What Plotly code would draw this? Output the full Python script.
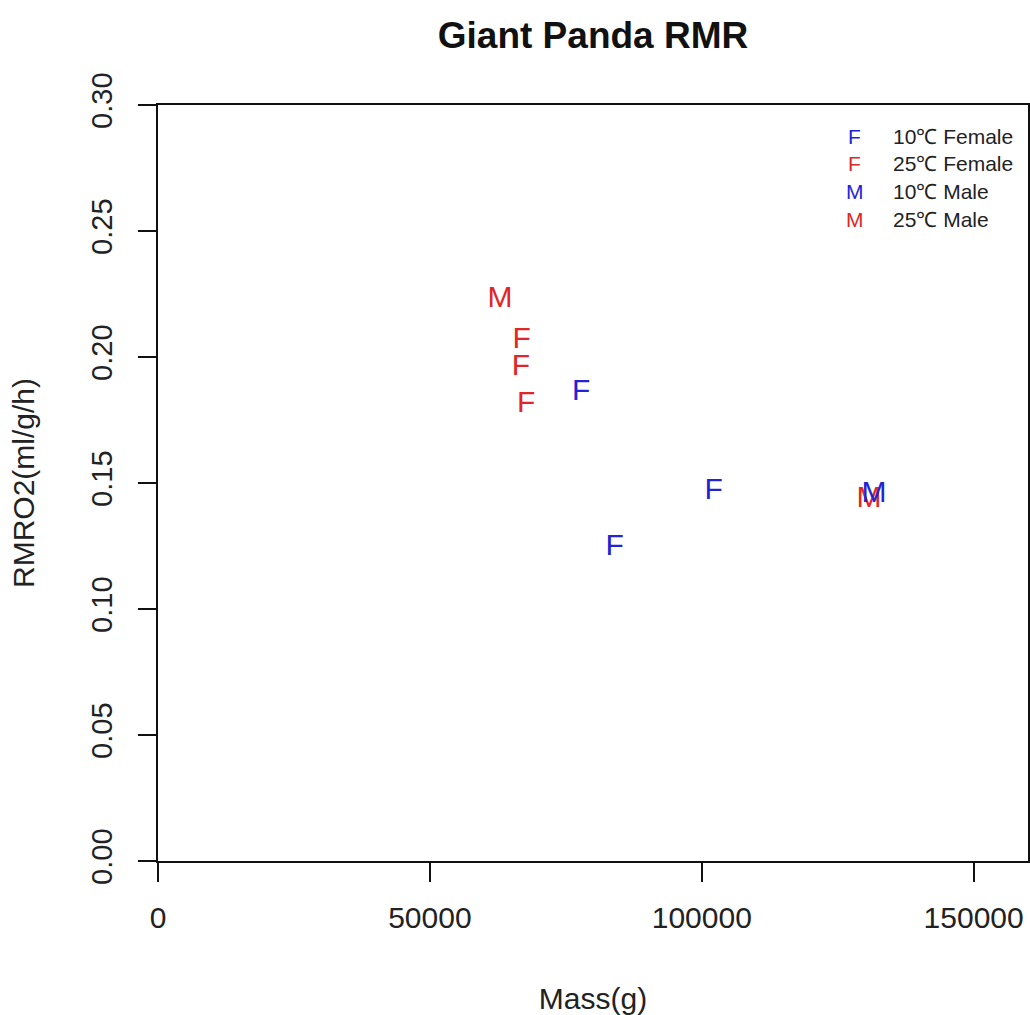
import plotly.graph_objects as go

# ---- data ----
female_10_mass = [77800, 84000, 102200]
female_10_rmr = [0.186, 0.1245, 0.1465]
female_25_mass = [66900, 66750, 67700]
female_25_rmr = [0.2067, 0.196, 0.181]
male_10_mass = [131700]
male_10_rmr = [0.1455]
male_25_mass = [62900, 130750]
male_25_rmr = [0.2228, 0.1435]

legend_letters = ["F", "F", "M", "M"]
legend_labels = ["10℃ Female", "25℃ Female", "10℃ Male", "25℃ Male"]

x_ticks = [0, 50000, 100000, 150000]
y_ticks = [0.00, 0.05, 0.10, 0.15, 0.20, 0.25, 0.30]

BLUE = "#2323d6"
RED = "#e02626"
FONT = "Liberation Sans, Arial, sans-serif"
legend_colors = [BLUE, RED, BLUE, RED]

fig = go.Figure()

def add_letters(xs, ys, letter, color, name):
    fig.add_trace(go.Scatter(
        x=xs, y=ys, mode="text", text=[letter] * len(xs),
        textposition="middle center",
        textfont=dict(family=FONT, size=30, color=color),
        name=name, showlegend=False, hoverinfo="x+y+name",
    ))

add_letters(female_10_mass, female_10_rmr, "F", BLUE, legend_labels[0])
add_letters(female_25_mass, female_25_rmr, "F", RED, legend_labels[1])
add_letters(male_25_mass, male_25_rmr, "M", RED, legend_labels[3])
add_letters(male_10_mass, male_10_rmr, "M", BLUE, legend_labels[2])

# legend drawn as text (like R's legend with pch letters, no box)
row_y = [0.958, 0.922, 0.886, 0.848]
for letter, label, color, yy in zip(legend_letters, legend_labels, legend_colors, row_y):
    fig.add_annotation(x=0.801, y=yy, xref="paper", yref="paper", text=letter,
                       showarrow=False, xanchor="center", yanchor="middle",
                       font=dict(family=FONT, size=21, color=color))
    fig.add_annotation(x=0.843, y=yy, xref="paper", yref="paper", text=label,
                       showarrow=False, xanchor="left", yanchor="middle",
                       font=dict(family=FONT, size=21, color="#222222"))

fig.update_layout(
    width=1030, height=1015,
    margin=dict(l=158, r=2, t=105, b=154, pad=0, autoexpand=False),
    paper_bgcolor="white", plot_bgcolor="white",
    font=dict(family=FONT, color="#222222"),
    title=dict(text="<b>Giant Panda RMR</b>", x=593 / 1030, xanchor="center",
               y=1 - 35 / 1015, yanchor="middle", yref="container",
               font=dict(family=FONT, size=37, color="#111111")),
    xaxis=dict(
        range=[0, 160000], tickvals=x_ticks, ticktext=[str(v) for v in x_ticks],
        showgrid=False, zeroline=False, showline=True, linecolor="#111111",
        linewidth=2, mirror=True, ticks="outside", ticklen=19, tickwidth=1.5,
        tickcolor="#111111", tickfont=dict(family=FONT, size=30, color="#222222"),
        ticklabelstandoff=10, automargin=False,
        title=dict(text="Mass(g)", font=dict(family=FONT, size=30, color="#222222"),
                   standoff=57),
    ),
    yaxis=dict(
        range=[0, 0.3], tickvals=y_ticks, ticktext=[f"{v:.2f}" for v in y_ticks],
        showgrid=False, zeroline=False, showline=True, linecolor="#111111",
        linewidth=2, mirror=True, ticks="outside", ticklen=18, tickwidth=1.5,
        tickcolor="#111111", tickangle=-90,
        tickfont=dict(family=FONT, size=29, color="#222222"),
        ticklabelstandoff=14, automargin=False,
        title=dict(text="RMRO2(ml/g/h)", font=dict(family=FONT, size=30, color="#222222"),
                   standoff=43),
    ),
)

fig.write_html("out.html")
